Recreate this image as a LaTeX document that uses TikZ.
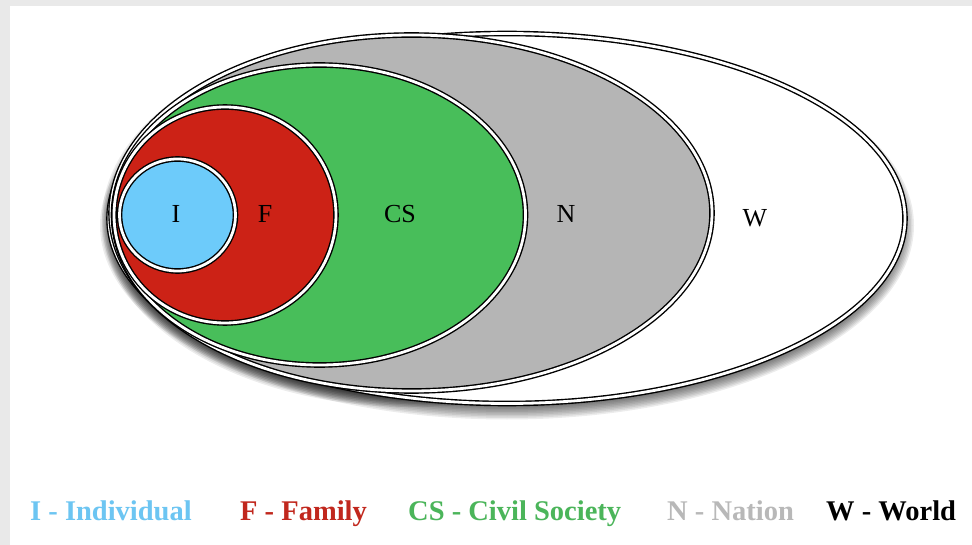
\documentclass[tikz,border=0pt]{standalone}
\usepackage{fontspec}
\setmainfont{Liberation Serif}
\usetikzlibrary{shapes.geometric}
\definecolor{frame}{HTML}{E9E9E9}
\definecolor{cI}{HTML}{6DCBFA}
\definecolor{cF}{HTML}{CC2216}
\definecolor{cCS}{HTML}{48BE5A}
\definecolor{cN}{HTML}{B5B5B5}
\definecolor{lI}{HTML}{6CC5F2}
\definecolor{lF}{HTML}{C1271D}
\definecolor{lCS}{HTML}{4BB55A}
\definecolor{lN}{HTML}{B8B8B8}
\tikzset{
  region/.style={ellipse, draw=black, line width=1.4pt, double=white, double distance=2.8pt, inner sep=0pt},
  shadowlayer/.style={fill=black, fill opacity=0.075},
  lab/.style={font=\fontsize{26}{28}\selectfont, inner sep=0pt},
  legend/.style={font=\fontsize{28.5}{30}\selectfont\bfseries, anchor=base west, inner sep=0pt}
}
\begin{document}
\begin{tikzpicture}[x=1pt,y=-1pt]
\useasboundingbox (0,0) rectangle (972,545);
\fill[frame] (0,0) rectangle (972,545);
\fill[white] (10,6) rectangle (972,545);
% soft shadow under the outer regions
\foreach \k in {0,...,11}{
  \pgfmathsetmacro{\d}{7-1.5*\k}
  \fill[shadowlayer] (507,225.5) ellipse [x radius=400+\d, y radius=187+\d];
  \fill[shadowlayer] (411.5,220) ellipse [x radius=302.5+\d, y radius=180+\d];
}
% regions
\node[region, fill=white, minimum width=796pt, minimum height=370pt] (W) at (507,218.5) {};
\node[region, fill=cN, minimum width=601pt, minimum height=356pt] (N) at (411.5,213) {};
\node[region, fill=cCS, minimum width=412pt, minimum height=300pt] (CS) at (319.5,215) {};
\node[region, fill=cF, minimum width=222pt, minimum height=216pt] (F) at (225,215) {};
\node[region, fill=cI, minimum width=116pt, minimum height=112pt] (I) at (177.5,215) {};
% labels
\node[lab] (tI) at (176,214) {I};
\node[lab] (tF) at (265,214) {F};
\node[lab] (tCS) at (400,214) {CS};
\node[lab] (tN) at (566,214) {N};
\node[lab] (tW) at (755,218) {W};
% legend
\node[legend, text=lI] (gI) at (30,520) {I - Individual};
\node[legend, text=lF] (gF) at (240,520) {F - Family};
\node[legend, text=lCS] (gCS) at (408,520) {CS - Civil Society};
\node[legend, text=lN] (gN) at (667,520) {N - Nation};
\node[legend, text=black] (gW) at (826,520) {W - World};
\end{tikzpicture}
\end{document}
